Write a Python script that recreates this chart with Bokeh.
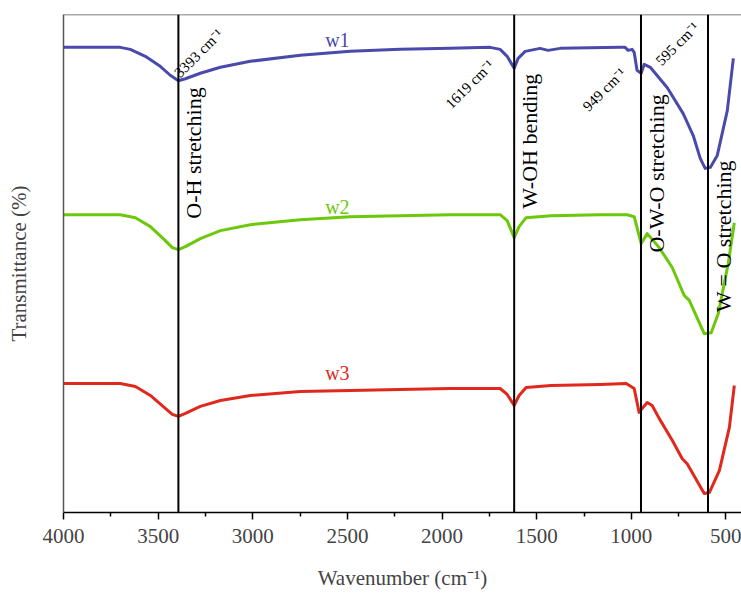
import numpy as np
from bokeh.plotting import figure
from bokeh.models import Range1d, Span, FixedTicker, ColumnDataSource
from bokeh.core.properties import value
from bokeh.embed import file_html
from bokeh.resources import INLINE

# ---- data (wavenumber cm^-1, transmittance in arbitrary offset units) ----
w1_x = [4000, 3700, 3647, 3568, 3489, 3436, 3393, 3356, 3277, 3171, 3013, 2749, 2485, 2221, 1957, 1746,
        1693, 1656, 1619, 1598, 1561, 1482, 1440, 1376, 1059, 1033, 1017, 996, 985, 970, 948, 932,
        900, 810, 726, 673, 636, 610, 583, 546, 493, 461]
w1_y = [93.4, 93.4, 93.0, 91.6, 89.6, 87.8, 86.7, 87.1, 88.2, 89.4, 90.6, 91.8, 92.6, 93.0, 93.2, 93.4,
        93.0, 91.6, 89.2, 91.2, 92.6, 93.2, 92.8, 93.2, 93.4, 93.4, 92.8, 93.0, 92.4, 88.8, 88.2, 90.0,
        89.4, 85.3, 80.1, 75.7, 71.1, 69.1, 69.3, 71.7, 80.7, 91.2]

w2_x = [4000, 3700, 3620, 3541, 3462, 3425, 3393, 3356, 3277, 3171, 3013, 2749, 2485, 2221, 1957, 1693,
        1656, 1619, 1593, 1556, 1424, 1165, 1022, 985, 959, 948, 916, 853, 784, 721, 694, 615, 578,
        541, 488, 456]
w2_y = [59.8, 59.8, 59.2, 57.4, 54.6, 53.2, 52.8, 53.4, 55.0, 56.6, 57.8, 58.8, 59.4, 59.6, 59.8, 59.8,
        58.6, 55.2, 57.4, 59.2, 59.6, 59.8, 59.8, 59.4, 55.6, 54.0, 56.0, 53.2, 49.2, 43.6, 42.6, 35.9, 36.1,
        39.9, 50.0, 58.2]

w3_x = [4000, 3700, 3620, 3541, 3462, 3425, 3393, 3356, 3277, 3171, 3013, 2749, 2485, 2221, 1957, 1693,
        1656, 1619, 1593, 1556, 1424, 1165, 1027, 985, 959, 943, 916, 890, 853, 784, 731, 705, 615, 588,
        535, 482, 456]
w3_y = [25.9, 25.9, 25.3, 23.5, 20.9, 19.7, 19.3, 19.9, 21.3, 22.5, 23.5, 24.3, 24.5, 24.7, 24.9, 24.9,
        23.7, 21.5, 23.5, 25.1, 25.5, 25.7, 25.9, 24.9, 20.1, 20.9, 22.1, 21.5, 18.9, 14.5, 10.8, 9.8, 3.8, 4.0,
        8.4, 17.1, 25.5]

peak_positions = [3393, 1619, 949, 595]
band_names = ["O-H stretching", "W-OH bending", "O-W-O stretching", "W = O stretching"]
band_label_y = [59.0, 61.0, 52.2, 40.2]
peak_labels = ["3393 cm\u207b\u00b9", "1619 cm\u207b\u00b9", "949 cm\u207b\u00b9", "595 cm\u207b\u00b9"]
series_names = ["w1", "w2", "w3"]
series_colors = ["#4a4aad", "#6cc80a", "#e0281c"]
series_label_x = [2553, 2553, 2553]
series_label_y = [94.8, 61.4, 28.1]
x_ticks = [4000, 3500, 3000, 2500, 2000, 1500, 1000, 500]
x_minor = [3750, 3250, 2750, 2250, 1750, 1250, 750]

SERIF = "Liberation Serif"

p = figure(width=741, height=592, output_backend="svg", toolbar_location=None,
           x_range=Range1d(4000, 418), y_range=Range1d(0, 100),
           min_border_left=63, min_border_right=0, min_border_top=14, min_border_bottom=80)
p.outline_line_color = None
p.grid.visible = False
p.background_fill_color = "white"

# top frame line
p.add_layout(Span(location=100, dimension="width", line_color="#555555", line_width=1.5))

# x axis
p.xaxis.ticker = FixedTicker(ticks=x_ticks, minor_ticks=x_minor)
p.xaxis.axis_label = "Wavenumber (cm\u207b\u00b9)"
p.xaxis.axis_label_text_font = SERIF
p.xaxis.axis_label_text_font_style = "normal"
p.xaxis.axis_label_text_font_size = "21px"
p.xaxis.axis_label_standoff = 20
p.xaxis.major_label_text_font = SERIF
p.xaxis.major_label_text_font_size = "21px"
p.xaxis.major_label_standoff = 9
p.xaxis.axis_line_color = "black"
p.xaxis.axis_line_width = 1.5
p.xaxis.major_tick_line_color = "black"
p.xaxis.major_tick_line_width = 1.5
p.xaxis.major_tick_out = 7
p.xaxis.major_tick_in = 0
p.xaxis.minor_tick_line_color = "black"
p.xaxis.minor_tick_line_width = 1.5
p.xaxis.minor_tick_out = 4
p.xaxis.minor_tick_in = 0

# y axis
p.yaxis.ticker = FixedTicker(ticks=[])
p.yaxis.axis_label = "Transmittance (%)"
p.yaxis.axis_label_text_font = SERIF
p.yaxis.axis_label_text_font_style = "normal"
p.yaxis.axis_label_text_font_size = "21px"
p.yaxis.axis_label_standoff = 33
p.yaxis.axis_line_color = "#555555"
p.yaxis.axis_line_width = 1.5
p.yaxis.major_tick_line_color = None
p.yaxis.minor_tick_line_color = None
p.yaxis.major_label_text_font_size = "0px"

# vertical peak lines
for xp in peak_positions:
    p.add_layout(Span(location=xp, dimension="height", line_color="black", line_width=2))

# spectra
for xs, ys, c in zip([w1_x, w2_x, w3_x], [w1_y, w2_y, w3_y], series_colors):
    p.line(xs, ys, line_color=c, line_width=3, line_join="round")

# series labels
p.text(x=series_label_x, y=series_label_y, text=series_names, text_color=series_colors,
       text_font=value(SERIF), text_font_size="20px", text_align="center", text_baseline="middle")

# band names (vertical)
p.text(x=peak_positions, y=band_label_y, text=band_names, angle=np.pi / 2,
       text_font=value(SERIF), text_font_size="22px", text_align="left", text_baseline="top",
       x_offset=3, text_color="black")

# peak wavenumber labels (45 deg)
pk_src = ColumnDataSource(dict(
    x=peak_positions,
    y=[86.7, 89.2, 87.6, 96.8],
    t=peak_labels,
    xo=[4, -17, -12, -6],
    align=["left", "right", "right", "right"],
))
p.text(x="x", y="y", text="t", source=pk_src, angle=np.pi / 4, x_offset="xo",
       text_align="align", text_baseline="bottom",
       text_font=value(SERIF), text_font_size="15px", text_color="black")

open("out.html", "w").write(file_html(p, INLINE))
